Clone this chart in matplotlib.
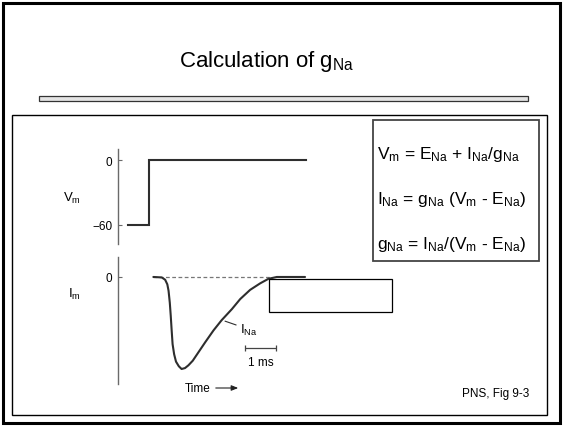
import matplotlib
matplotlib.use("Agg")
import matplotlib.pyplot as plt
from matplotlib.patches import Rectangle, FancyArrowPatch

plt.rcParams['font.family'] = ['Liberation Sans', 'DejaVu Sans']
plt.rcParams['mathtext.fontset'] = 'custom'
plt.rcParams['mathtext.rm'] = 'Liberation Sans'
plt.rcParams['mathtext.it'] = 'Liberation Sans:italic'

# voltage step (ms, mV)
step_t = [-0.68, 0.0, 0.0, 5.06]
step_v = [-60, -60, 0, 0]

# sodium current trace (ms, normalised)
ina_t = [0.14, 0.41, 0.52, 0.59, 0.63, 0.67, 0.70, 0.73, 0.76, 0.81, 0.87,
         0.96, 1.05, 1.16, 1.27, 1.41, 1.59, 1.81, 2.08, 2.34, 2.67, 2.94,
         3.26, 3.58, 3.85, 4.12, 5.03]
ina_i = [0.0, -0.005, -0.03, -0.08, -0.15, -0.28, -0.42, -0.58, -0.73, -0.84,
         -0.92, -0.97, -1.0, -0.99, -0.96, -0.91, -0.82, -0.71, -0.58, -0.47,
         -0.35, -0.24, -0.14, -0.07, -0.02, 0.0, 0.0]
zero_line_t = [0.13, 3.9]

v_ticks = [0, -60]
v_tick_labels = ['0', '\u221260']
i_ticks = [0]

equations = [
    r'$\mathrm{V_m}$ = $\mathrm{E_{Na}}$ + $\mathrm{I_{Na}}$/$\mathrm{g_{Na}}$',
    r'$\mathrm{I_{Na}}$ = $\mathrm{g_{Na}}$ ($\mathrm{V_m}$ - $\mathrm{E_{Na}}$)',
    r'$\mathrm{g_{Na}}$ = $\mathrm{I_{Na}}$/($\mathrm{V_m}$ - $\mathrm{E_{Na}}$)',
]

W, H = 564, 427
fig = plt.figure(figsize=(W / 100, H / 100), dpi=100)


def px(x, y):
    return x / W, 1 - y / H


def box(x0, y0, x1, y1, **kw):
    fx0, fy1 = px(x0, y0)
    fx1, fy0 = px(x1, y1)
    fig.add_artist(Rectangle((fx0, fy0), fx1 - fx0, fy1 - fy0,
                             transform=fig.transFigure, **kw))


def label(x, y, s, **kw):
    fig.text(*px(x, y), s, **kw)


# slide frame
box(3, 4, 560, 424, fill=False, ec='black', lw=2.2, zorder=1)
box(39, 97, 528, 102, fc='#e4e4e4', ec='#333333', lw=0.9, zorder=1)
box(12, 116, 547, 416, fill=False, ec='black', lw=1.0, zorder=1)
label(267, 67, r'Calculation of g$_\mathrm{Na}$', fontsize=16,
      ha='center', va='baseline')

trace = '#2e2e2e'
axis_c = '#6a6a6a'
t_lim = (-1.0, 5.19)


def make_axes(top, bottom, ylim):
    fx0, fy1 = px(118, top)
    fx1, fy0 = px(310, bottom)
    ax = fig.add_axes([fx0, fy0, fx1 - fx0, fy1 - fy0])
    ax.set_xlim(*t_lim)
    ax.set_ylim(*ylim)
    ax.patch.set_alpha(0)
    for s in ['top', 'right', 'bottom']:
        ax.spines[s].set_visible(False)
    ax.spines['left'].set_color(axis_c)
    ax.spines['left'].set_linewidth(1.0)
    ax.set_xticks([])
    ax.tick_params(axis='y', direction='in', length=3, width=0.8,
                   color=axis_c, labelsize=8.5, pad=4)
    return ax


ax_v = make_axes(150, 245, (-77.7, 10.2))
ax_v.plot(step_t, step_v, color=trace, lw=1.5, solid_joinstyle='miter')
ax_v.set_yticks(v_ticks)
ax_v.set_yticklabels(v_tick_labels)

ax_i = make_axes(258, 385, (-1.163, 0.217))
ax_i.plot(zero_line_t, [0, 0], color='#777777', lw=0.9, ls=(0, (3, 2)))
ax_i.plot(ina_t, ina_i, color=trace, lw=1.5, solid_joinstyle='round',
          solid_capstyle='round')
ax_i.set_yticks(i_ticks)

label(72, 198, r'$\mathrm{V_m}$', fontsize=9.5, ha='center', va='center')
label(74, 294, r'$\mathrm{I_m}$', fontsize=9.5, ha='center', va='center')

# I_Na leader and label
ax_i.annotate(r'$\mathrm{I_{Na}}$', xy=(2.45, -0.48), xytext=(2.94, -0.57),
              fontsize=9.5, va='center', ha='left',
              arrowprops=dict(arrowstyle='-', color=trace, lw=0.8,
                              shrinkA=1, shrinkB=0))

# 1 ms scale bar
ax_i.errorbar([3.6], [-0.77], xerr=0.5, color='#444444', lw=0.9,
              capsize=2.5, capthick=0.9)
ax_i.text(3.6, -0.86, '1 ms', fontsize=8.5, ha='center', va='top')

label(185, 389, 'Time', fontsize=8.5, ha='left', va='center')
fig.add_artist(FancyArrowPatch(
    px(213, 389), px(241, 389), transform=fig.transFigure,
    arrowstyle='-|>,head_length=4,head_width=1.6', color='#222222', lw=0.8,
    zorder=3))

# covering box and equation box
box(269, 280, 392, 313, fc='white', ec='black', lw=0.9, zorder=5)
box(373, 121, 539, 262, fc='white', ec='#444444', lw=1.3, zorder=5)
for k, eq in enumerate(equations):
    label(377, 159 + k * 45, eq, fontsize=12.5, ha='left', va='baseline',
          zorder=6)

label(529, 397, 'PNS, Fig 9-3', fontsize=8.5, ha='right', va='baseline')

fig.savefig('out.png', dpi=100)
